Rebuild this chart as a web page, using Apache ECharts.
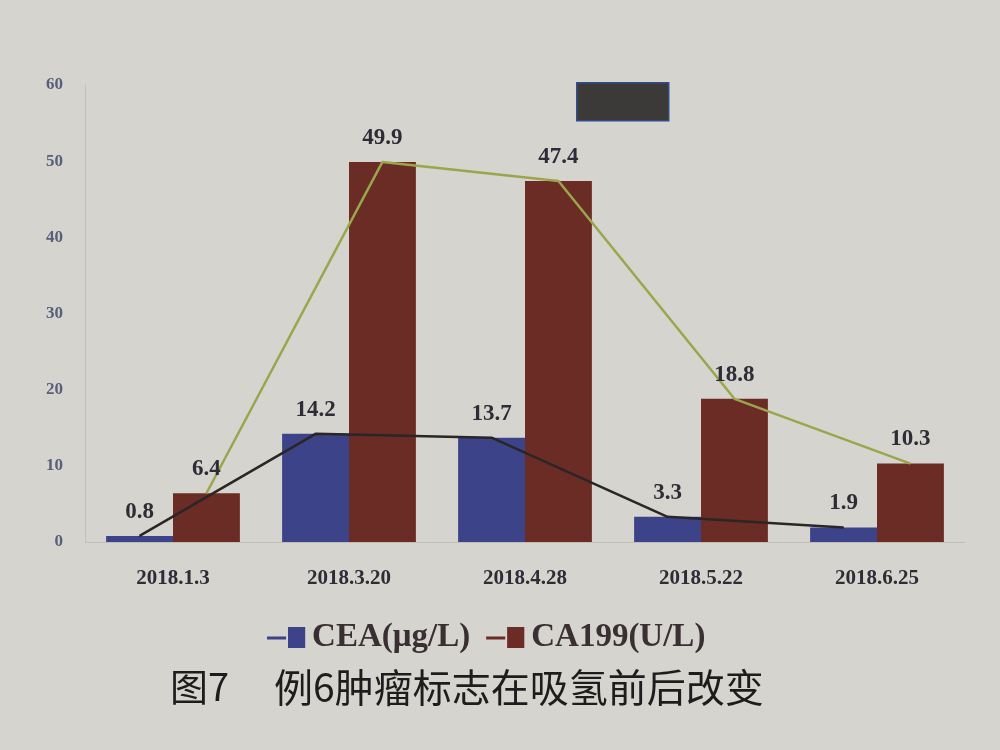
<!DOCTYPE html>
<html>
<head>
<meta charset="utf-8">
<script src="https://cdn.jsdelivr.net/npm/echarts@6/dist/echarts.min.js"></script>
<style>
html,body{margin:0;padding:0;background:#d6d4ce;}
#chartmain{width:1000px;height:750px;}
</style>
</head>
<body>
<div id="chartmain"></div>
<script>
var dates=['2018.1.3','2018.3.20','2018.4.28','2018.5.22','2018.6.25'];
var cea=[0.8,14.2,13.7,3.3,1.9];
var ca199=[6.4,49.9,47.4,18.8,10.3];
var yTicks=[0,10,20,30,40,50,60];

// line points sit on the centre of each bar (bar width 38% of the band, no gap)
var offset=0.19;
function linePoints(values,shift) {
	var pts=[];
	for(var i=0;i<values.length;i++) {
		pts.push([i+shift,values[i]]);
	}
	return pts;
}

var serif='"Liberation Serif","DejaVu Serif",serif';
var legendIcon='path://M0,6H10V7.5H0Z M11,1H20V12H11Z';

var myChart=echarts.init(document.getElementById("chartmain"));
var option={
	backgroundColor:'#d6d4ce',
	animation:false,
	grid:{left:85,right:35,top:85,bottom:208},
	legend:{
		data:['CEA(μg/L)','CA199(U/L)'],
		left:262,top:616,
		icon:legendIcon,
		itemWidth:42,itemHeight:21,itemGap:16,
		textStyle:{fontFamily:serif,fontWeight:'bold',fontSize:33,color:'#3a2f33'}
	},
	xAxis:[{
		type:'category',
		data:dates,
		axisTick:{show:false},
		axisLine:{lineStyle:{color:'#c2bfb8'}},
		axisLabel:{fontFamily:serif,fontWeight:'bold',fontSize:21,color:'#2e2c36',margin:26}
	},{
		type:'value',
		min:-0.5,max:4.5,
		show:false
	}],
	yAxis:[{
		type:'value',
		min:0,max:60,interval:10,
		splitLine:{show:false},
		axisLine:{show:true,onZero:false,lineStyle:{color:'#c4c1ba'}},
		axisTick:{show:false},
		axisLabel:{fontFamily:serif,fontWeight:'bold',fontSize:17,color:'#56607a',margin:22,
			formatter:function(v){return yTicks.indexOf(v)>=0?v:'';}}
	}],
	series:[{
		name:'CEA(μg/L)',
		type:'bar',
		barWidth:'38%',
		barGap:'0%',
		itemStyle:{color:'#3c4388'},
		data:cea
	},{
		name:'CA199(U/L)',
		type:'bar',
		barWidth:'38%',
		barGap:'0%',
		itemStyle:{color:'#6b2c26'},
		data:ca199
	},{
		name:'CEA趋势',
		type:'line',
		xAxisIndex:1,
		symbol:'circle',
		symbolSize:1,
		showSymbol:true,
		itemStyle:{color:'#2a2626'},
		lineStyle:{color:'#2a2626',width:2.5},
		label:{show:true,position:'top',distance:12,fontFamily:serif,fontWeight:'bold',fontSize:23,color:'#2e2c36',
			formatter:function(p){return p.value[1];}},
		data:linePoints(cea,-offset),
		z:5
	},{
		name:'CA199趋势',
		type:'line',
		xAxisIndex:1,
		symbol:'circle',
		symbolSize:1,
		showSymbol:true,
		itemStyle:{color:'#9aa64c'},
		lineStyle:{color:'#9aa64c',width:2.5},
		label:{show:true,position:'top',distance:12,fontFamily:serif,fontWeight:'bold',fontSize:23,color:'#2e2c36',
			formatter:function(p){return p.value[1];}},
		data:linePoints(ca199,offset),
		z:5
	}],
	graphic:[{
		type:'rect',
		left:576,top:82,
		shape:{width:92,height:38},
		style:{fill:'#3b3a38',stroke:'#2f4f8a',lineWidth:1.5}
	},{
		type:'text',
		left:170,top:668,
		style:{text:'图7',font:'38px "Noto Sans CJK SC"',fill:'#1e1c1c'}
	},{
		type:'text',
		left:274,top:668,
		style:{text:'例6肿瘤标志在吸氢前后改变',font:'39px "Noto Sans CJK SC"',fill:'#1e1c1c'}
	}]
};
myChart.setOption(option);
</script>
</body>
</html>
